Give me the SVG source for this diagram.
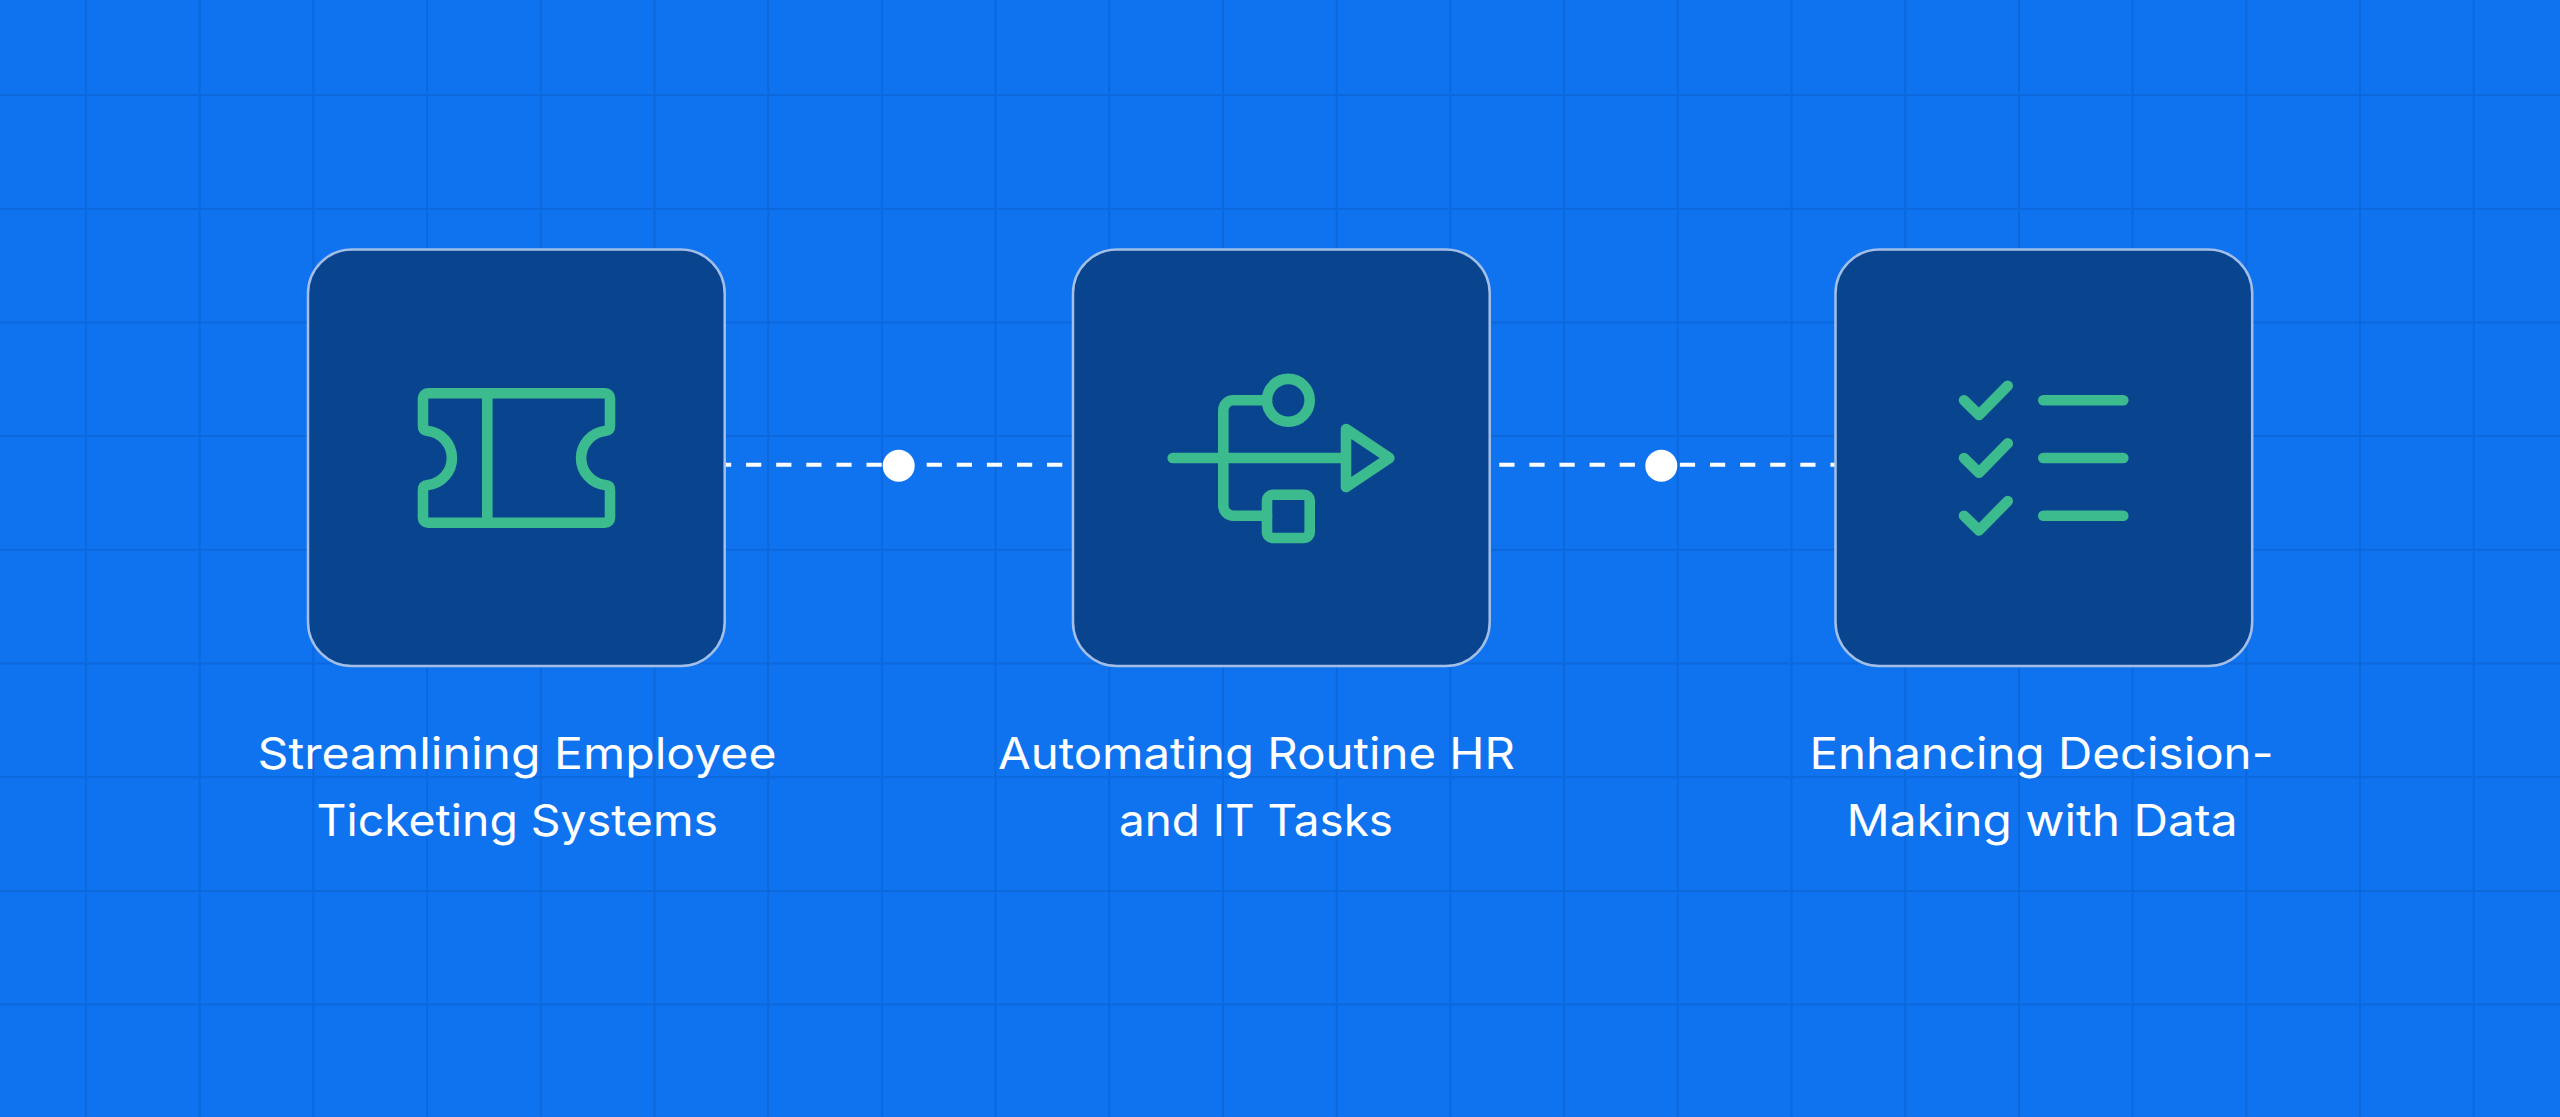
<svg xmlns="http://www.w3.org/2000/svg" width="2560" height="1117" viewBox="0 0 2560 1117">
  <style>
    .bg { fill: #0F73F0; }
    .grid { fill: none; stroke: #0D68DC; stroke-width: 2; }
    .card { fill: #09448F; stroke: #A3BFE8; stroke-width: 2.5; }
    .icon { fill: none; stroke: #3CBB8F; stroke-width: 10.6; stroke-linecap: round; stroke-linejoin: round; }
    .label { font-family: "Inter", "Liberation Sans", sans-serif; font-weight: 400; font-size: 44px; fill: #FFFFFF; }
    .dash { fill: none; stroke: #FFFFFF; stroke-width: 4; stroke-dasharray: 15.2 14.9; }
    .dot { fill: #FFFFFF; }
  </style>
  <rect class="bg" width="2560" height="1117"/>
  <path class="grid" d="M86 0V1117M199.7 0V1117M313.4 0V1117M427.1 0V1117M540.8 0V1117M654.5 0V1117M768.2 0V1117M881.9 0V1117M995.6 0V1117M1109.3 0V1117M1223 0V1117M1336.7 0V1117M1450.4 0V1117M1564.1 0V1117M1677.8 0V1117M1791.5 0V1117M1905.2 0V1117M2018.9 0V1117M2132.6 0V1117M2246.3 0V1117M2360 0V1117M2473.7 0V1117M0 95H2560M0 208.7H2560M0 322.4H2560M0 436.1H2560M0 549.8H2560M0 663.5H2560M0 777.2H2560M0 890.9H2560M0 1004.6H2560"/>
  <g id="connectors">
    <line class="dash" x1="716" y1="464.7" x2="1072" y2="464.7"/>
    <line class="dash" x1="1469.2" y1="464.7" x2="1835" y2="464.7"/>
    <circle class="dot" cx="898.7" cy="465.7" r="16"/>
    <circle class="dot" cx="1661.3" cy="465.7" r="16"/>
  </g>
  <g id="node-ticketing">
    <rect class="card" x="308" y="249.5" width="416.7" height="416.5" rx="44"/>
    <path class="icon" d="M428 393.3H605A5 5 0 0 1 610 398.3V426Q610 430.5 605 431A27.2 27.2 0 0 0 605 485Q610 485.5 610 490V517.7A5 5 0 0 1 605 522.7H428A5 5 0 0 1 423 517.7V490Q423 485.5 428 485A27.2 27.2 0 0 0 428 431Q423 430.5 423 426V398.3A5 5 0 0 1 428 393.3ZM487.3 393.3V522.7"/>
    <text class="label" x="257.5" y="769" textLength="519" lengthAdjust="spacingAndGlyphs">Streamlining Employee</text>
    <text class="label" x="316.5" y="836" textLength="401.5" lengthAdjust="spacingAndGlyphs">Ticketing Systems</text>
  </g>
  <g id="node-automating">
    <rect class="card" x="1073" y="249.5" width="416.7" height="416.5" rx="44"/>
    <path class="icon" d="M1172.7 458H1346M1346 429L1389.3 458L1346 487ZM1267 400.3H1233.3A10 10 0 0 0 1223.3 410.3V505.7A10 10 0 0 0 1233.3 515.7H1267"/>
    <circle class="icon" cx="1288.3" cy="400.3" r="21.4"/>
    <rect class="icon" x="1267" y="494.7" width="42.7" height="43.3" rx="6"/>
    <text class="label" x="998" y="769" textLength="517" lengthAdjust="spacingAndGlyphs">Automating Routine HR</text>
    <text class="label" x="1119" y="836" textLength="274" lengthAdjust="spacingAndGlyphs">and IT Tasks</text>
  </g>
  <g id="node-decision">
    <rect class="card" x="1835.5" y="249.5" width="416.7" height="416.5" rx="44"/>
    <path class="icon" d="M1964 400.3L1979 415L2007.7 385.7M1964 458L1979 472.7L2007.7 443.4M1964 515.7L1979 530.4L2007.7 501.1M2043.3 400.3H2123.3M2043.3 458H2123.3M2043.3 515.7H2123.3"/>
    <text class="label" x="1809.5" y="769" textLength="464" lengthAdjust="spacingAndGlyphs">Enhancing Decision-</text>
    <text class="label" x="1846.5" y="836" textLength="391" lengthAdjust="spacingAndGlyphs">Making with Data</text>
  </g>
</svg>
